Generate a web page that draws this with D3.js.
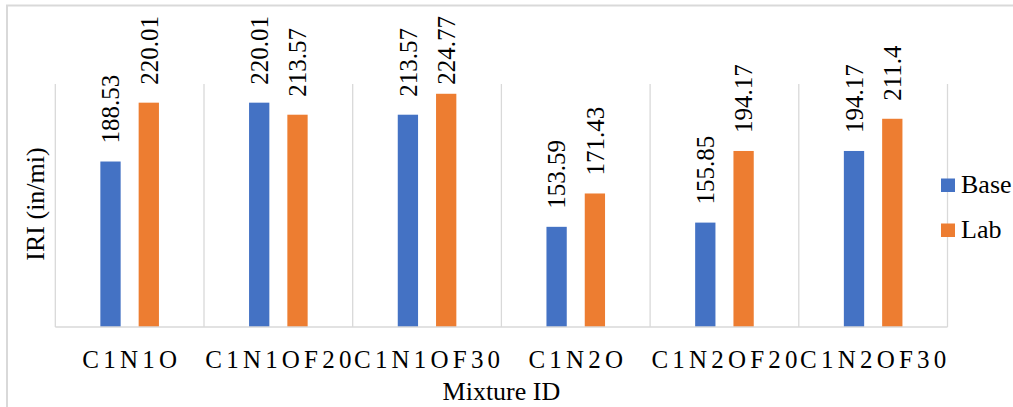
<!DOCTYPE html>
<html>
<head>
<meta charset="utf-8">
<script src="https://cdn.jsdelivr.net/npm/d3@7"></script>
<style>
  body { margin: 0; background: #fff; }
  text { font-family: "Liberation Serif", "Times New Roman", serif; fill: #000; }
</style>
</head>
<body>
<div id="chart"></div>
<script>
'use strict';

const categories = ['C1N1O', 'C1N1OF20', 'C1N1OF30', 'C1N2O', 'C1N2OF20', 'C1N2OF30'];
const seriesNames = ['Base', 'Lab'];
const baseValues = [188.53, 220.01, 213.57, 153.59, 155.85, 194.17];
const labValues = [220.01, 213.57, 224.77, 171.43, 194.17, 211.4];
const baseLabels = ['188.53', '220.01', '213.57', '153.59', '155.85', '194.17'];
const labLabels = ['220.01', '213.57', '224.77', '171.43', '194.17', '211.4'];
const colors = ['#4472c4', '#ed7d31'];

const serif = '"Liberation Serif", "Times New Roman", serif';
const width = 1013, height = 407;
const plot = {left: 55.3, right: 947.5, top: 84, bottom: 327};

const rows = categories.map((c, i) => ({
  cat: c,
  vals: [
    {s: 'Base', v: baseValues[i], label: baseLabels[i]},
    {s: 'Lab', v: labValues[i], label: labLabels[i]}
  ]
}));

const svg = d3.select('#chart').append('svg')
    .attr('width', width)
    .attr('height', height);

// chart area border (right and bottom are cut off in the picture)
svg.append('path')
    .attr('d', 'M7,407V5.5H1013')
    .attr('fill', 'none')
    .attr('stroke', '#d9d9d9')
    .attr('stroke-width', 2);

const x0 = d3.scaleBand()
    .domain(categories)
    .range([plot.left, plot.right]);

const bw = x0.bandwidth();
const x1 = d3.scaleBand()
    .domain(seriesNames)
    .range([bw * 0.303, bw * 0.697])
    .paddingInner(0.47);

const y = d3.scaleLinear()
    .domain([100, 230])
    .range([plot.bottom, plot.top]);

// vertical gridlines at category boundaries
const bounds = categories.map(c => x0(c)).concat([plot.right]);
svg.append('g').selectAll('line')
    .data(bounds)
    .enter().append('line')
    .attr('x1', d => d).attr('x2', d => d)
    .attr('y1', plot.top).attr('y2', plot.bottom)
    .attr('stroke', '#d9d9d9')
    .attr('stroke-width', 1.3);

// bars
const groups = svg.append('g').selectAll('g')
    .data(rows)
    .enter().append('g')
    .attr('transform', d => 'translate(' + x0(d.cat) + ',0)');

groups.selectAll('rect')
    .data(d => d.vals)
    .enter().append('rect')
    .attr('x', d => x1(d.s))
    .attr('width', x1.bandwidth())
    .attr('y', d => y(d.v))
    .attr('height', d => plot.bottom - y(d.v))
    .attr('fill', (d, i) => colors[i]);

// category axis
const xAxis = svg.append('g')
    .attr('transform', 'translate(0,' + plot.bottom + ')')
    .call(d3.axisBottom(x0).tickSize(0).tickPadding(0));
xAxis.select('.domain')
    .attr('stroke', '#d9d9d9')
    .attr('stroke-width', 1.5)
    .attr('d', 'M' + plot.left + ',0H' + plot.right);
xAxis.selectAll('.tick text')
    .attr('y', 41)
    .attr('dy', 0)
    .attr('font-size', 25)
    .attr('letter-spacing', '4.2px')
    .attr('dx', '2.1px')
    .style('font-family', serif)
    .style('fill', '#000');

// data labels, rotated; the tallest ones are pushed down to stay inside the chart
groups.selectAll('text.lbl')
    .data(d => d.vals)
    .enter().append('text')
    .attr('class', 'lbl')
    .style('font-family', serif)
    .attr('font-size', 25)
    .attr('text-anchor', 'start')
    .attr('dy', '0.35em')
    .text(d => d.label)
    .attr('transform', function(d) {
      const len = this.getComputedTextLength();
      const cx = x1(d.s) + x1.bandwidth() / 2;
      const bottom = Math.max(y(d.v) - 18, 16 + len);
      return 'translate(' + cx + ',' + bottom + ') rotate(-90)';
    });

// axis titles
svg.append('text')
    .attr('x', (plot.left + plot.right) / 2)
    .attr('y', 400)
    .attr('text-anchor', 'middle')
    .style('font-family', serif)
    .attr('font-size', 26)
    .text('Mixture ID');

svg.append('text')
    .attr('transform', 'translate(44,' + 204 + ') rotate(-90)')
    .attr('text-anchor', 'middle')
    .style('font-family', serif)
    .attr('font-size', 26)
    .text('IRI (in/mi)');

// legend
const legend = svg.append('g').selectAll('g')
    .data(seriesNames)
    .enter().append('g')
    .attr('transform', (d, i) => 'translate(941,' + (178.5 + i * 45) + ')');
legend.append('rect')
    .attr('width', 14)
    .attr('height', 13.5)
    .attr('fill', (d, i) => colors[i]);
legend.append('text')
    .attr('x', 20)
    .attr('y', 14.3)
    .style('font-family', serif)
    .attr('font-size', 26)
    .text(d => d);
</script>
</body>
</html>
